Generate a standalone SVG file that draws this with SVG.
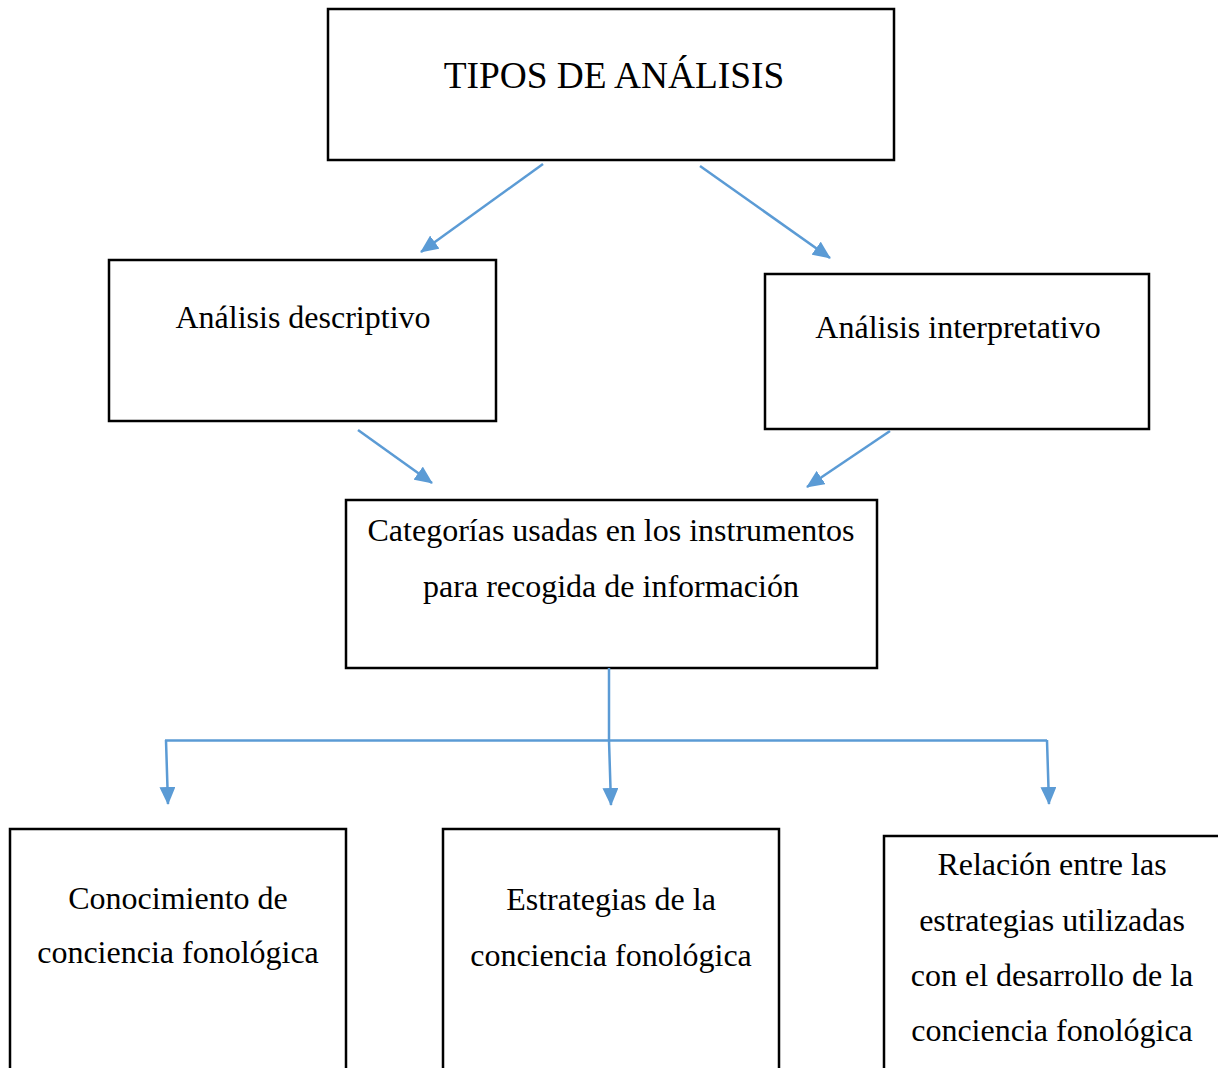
<svg xmlns="http://www.w3.org/2000/svg" width="1218" height="1068" viewBox="0 0 1218 1068">
<style>
.box{fill:#fff;stroke:#000;stroke-width:2.5}
.t{font-family:"Liberation Serif","Times New Roman",serif;fill:#000;text-anchor:middle;font-size:32px}
.c{stroke:#5B9BD5;stroke-width:2.5;fill:none}
</style>
<defs>
<marker id="ah" markerUnits="userSpaceOnUse" markerWidth="18" markerHeight="16" viewBox="0 0 18 16" refX="17" refY="8" orient="auto">
<path d="M0,0 L18,8 L0,16 z" fill="#5B9BD5"/>
</marker>
</defs>
<rect width="1218" height="1068" fill="#fff"/>
<g id="n-tipos">
<rect class="box" x="328" y="9" width="566" height="151"/>
<text class="t" x="614" y="88" style="font-size:37.4px">TIPOS DE ANÁLISIS</text>
</g>
<g id="n-descriptivo">
<rect class="box" x="109" y="260" width="387" height="161"/>
<text class="t" x="303" y="328">Análisis descriptivo</text>
</g>
<g id="n-interpretativo">
<rect class="box" x="765" y="274" width="384" height="155"/>
<text class="t" x="958" y="338">Análisis interpretativo</text>
</g>
<g id="n-categorias">
<rect class="box" x="346" y="500" width="531" height="168"/>
<text class="t" x="611" y="541">Categorías usadas en los instrumentos</text>
<text class="t" x="611" y="597">para recogida de información</text>
</g>
<g id="n-conocimiento">
<rect class="box" x="10" y="829" width="336" height="250"/>
<text class="t" x="178" y="909">Conocimiento de</text>
<text class="t" x="178" y="963">conciencia fonológica</text>
</g>
<g id="n-estrategias">
<rect class="box" x="443" y="829" width="336" height="250"/>
<text class="t" x="611" y="910">Estrategias de la</text>
<text class="t" x="611" y="966">conciencia fonológica</text>
</g>
<g id="n-relacion">
<rect class="box" x="884" y="836" width="340" height="250"/>
<text class="t" x="1052" y="875">Relación entre las</text>
<text class="t" x="1052" y="931">estrategias utilizadas</text>
<text class="t" x="1052" y="986">con el desarrollo de la</text>
<text class="t" x="1052" y="1041">conciencia fonológica</text>
</g>
<g id="connectors">
<line class="c" x1="543" y1="164" x2="421" y2="252" marker-end="url(#ah)"/>
<line class="c" x1="700" y1="166" x2="830" y2="258" marker-end="url(#ah)"/>
<line class="c" x1="358" y1="430" x2="432" y2="483" marker-end="url(#ah)"/>
<line class="c" x1="890" y1="431" x2="807" y2="487" marker-end="url(#ah)"/>
<line class="c" x1="609" y1="668" x2="609" y2="740"/>
<line class="c" x1="165" y1="740.5" x2="1047" y2="740.5" stroke-width="3"/>
<line class="c" x1="166" y1="740" x2="168" y2="804" marker-end="url(#ah)"/>
<line class="c" x1="609" y1="740" x2="611" y2="805" marker-end="url(#ah)"/>
<line class="c" x1="1047" y1="740" x2="1049" y2="804" marker-end="url(#ah)"/>
</g>
</svg>
